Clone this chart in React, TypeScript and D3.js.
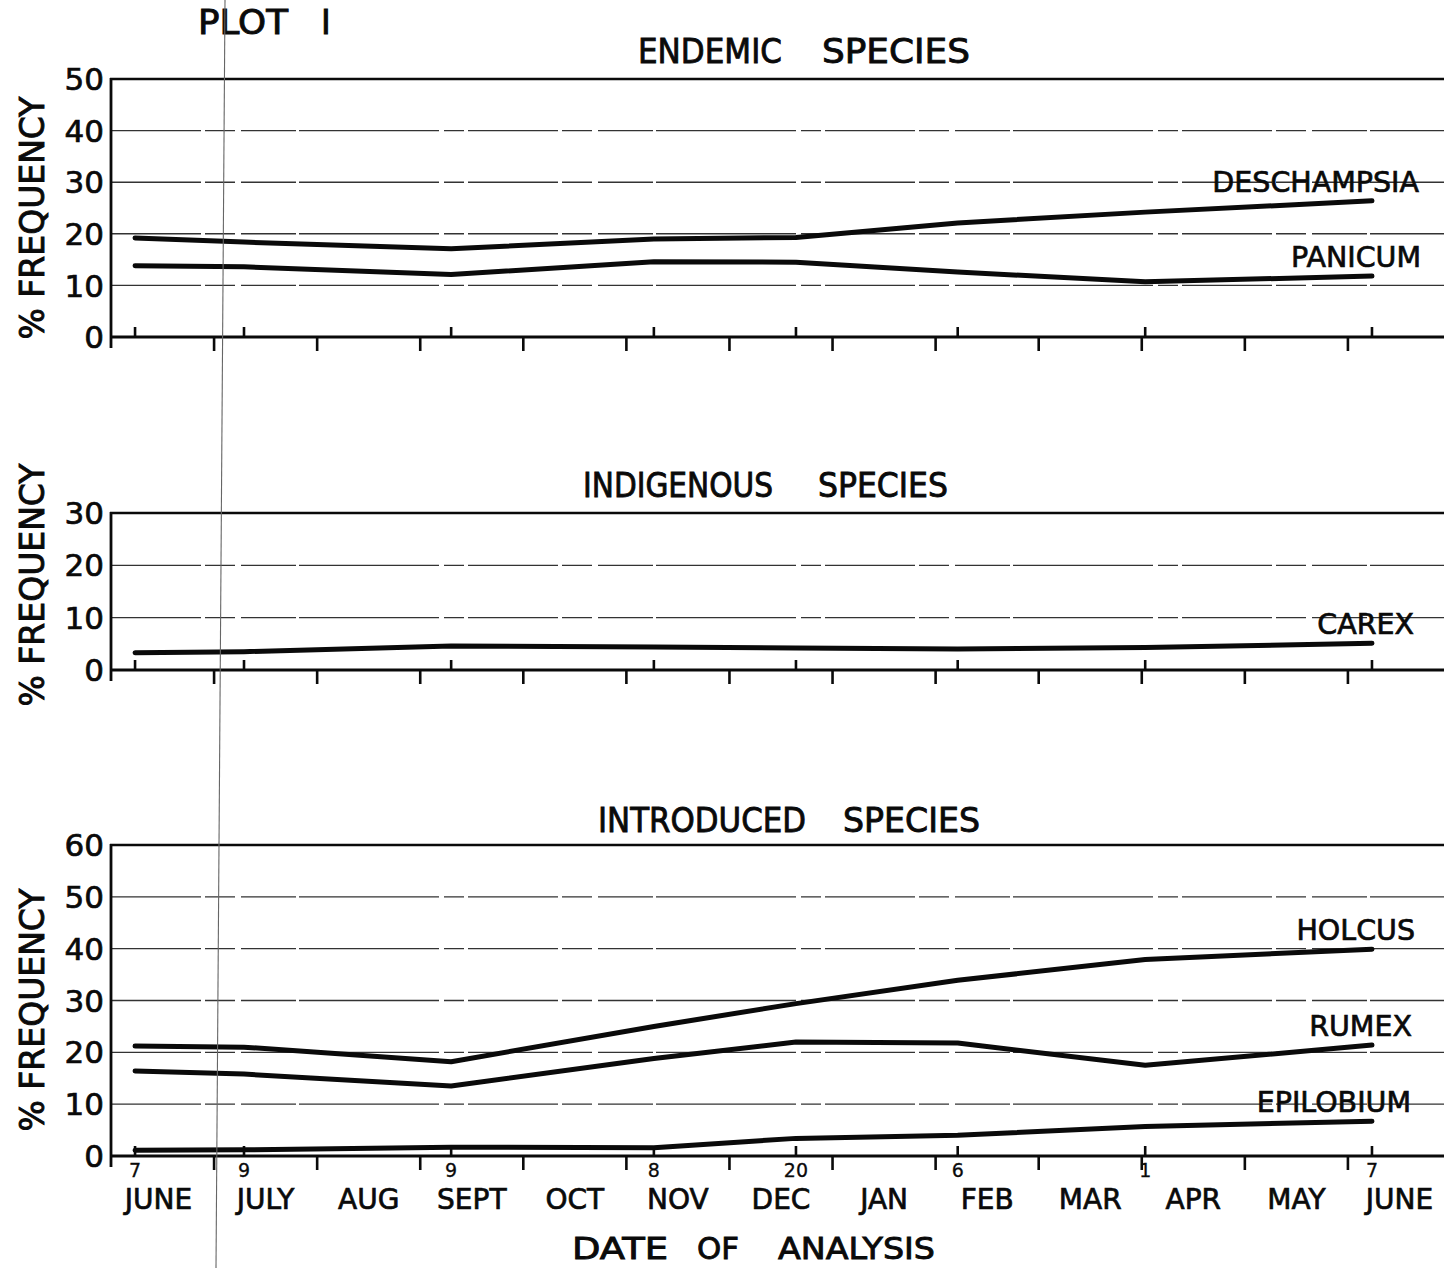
import React from "react";
import * as d3 from "d3";

const W = 1444;
const H = 1268;

// Calendar of the sampling year, June through the following June
const monthLabels = ["JUNE", "JULY", "AUG", "SEPT", "OCT", "NOV", "DEC", "JAN", "FEB", "MAR", "APR", "MAY", "JUNE"];
const monthLengths = [30, 31, 31, 30, 31, 30, 31, 31, 28, 31, 30, 31, 30];

// Dates of analysis (month index into monthLabels, day of month)
const sampleMonth = [0, 1, 3, 5, 6, 8, 10, 12];
const sampleDay = [7, 9, 9, 8, 20, 6, 1, 7];

// % frequency per date of analysis
const deschampsia = [19.2, 18.4, 17.1, 19.0, 19.3, 22.1, 24.2, 26.4];
const panicum = [13.8, 13.6, 12.1, 14.6, 14.5, 12.6, 10.7, 11.8];
const carex = [3.3, 3.5, 4.6, 4.4, 4.2, 4.0, 4.3, 5.1];
const holcus = [21.2, 21.0, 18.2, 25.0, 29.4, 33.9, 37.9, 39.9];
const rumex = [16.4, 15.8, 13.5, 18.8, 22.0, 21.8, 17.5, 21.4];
const epilobium = [1.1, 1.2, 1.7, 1.6, 3.4, 4.0, 5.7, 6.7];

// y-axis tick values of each panel
const endemicTicks = [0, 10, 20, 30, 40, 50];
const indigenousTicks = [0, 10, 20, 30];
const introducedTicks = [0, 10, 20, 30, 40, 50, 60];

const FONT = "'DejaVu Sans', 'Liberation Sans', sans-serif";

const monthPos = (m: number, d: number) => m + d / monthLengths[m];
const x = d3.scaleLinear().domain([0, 13]).range([111, 1451]);
const sampleX = sampleMonth.map((m, i) => x(monthPos(m, sampleDay[i])));

type Series = { name: string; values: number[] };
type Panel = {
  title: [string, string];
  titleX: [number, number, number, number];
  titleY: number;
  ticks: number[];
  yRange: [number, number];
  labelY: number;
  series: Series[];
  showDates: boolean;
};

const panels: Panel[] = [
  {
    title: ["ENDEMIC", "SPECIES"],
    titleX: [638, 144, 822, 148],
    titleY: 63,
    ticks: endemicTicks,
    yRange: [337, 79],
    labelY: 218,
    series: [
      { name: "DESCHAMPSIA", values: deschampsia },
      { name: "PANICUM", values: panicum },
    ],
    showDates: false,
  },
  {
    title: ["INDIGENOUS", "SPECIES"],
    titleX: [583, 190, 818, 130],
    titleY: 497,
    ticks: indigenousTicks,
    yRange: [670, 513],
    labelY: 585,
    series: [{ name: "CAREX", values: carex }],
    showDates: false,
  },
  {
    title: ["INTRODUCED", "SPECIES"],
    titleX: [598, 208, 843, 137],
    titleY: 832,
    ticks: introducedTicks,
    yRange: [1156, 845],
    labelY: 1010,
    series: [
      { name: "HOLCUS", values: holcus },
      { name: "RUMEX", values: rumex },
      { name: "EPILOBIUM", values: epilobium },
    ],
    showDates: true,
  },
];

const labelRight: Record<string, number> = {
  DESCHAMPSIA: 1419,
  PANICUM: 1421,
  CAREX: 1414,
  HOLCUS: 1415,
  RUMEX: 1412,
  EPILOBIUM: 1411,
};

const ink = "#0a0a0a";
const bold = { fill: ink, stroke: ink, strokeWidth: 0.9, fontFamily: FONT } as const;

function PanelView({ p }: { p: Panel }) {
  const max = p.ticks[p.ticks.length - 1];
  const y = d3.scaleLinear().domain([0, max]).range(p.yRange);
  const line = d3
    .line<number>()
    .x((_, i) => sampleX[i])
    .y((v) => y(v))
    .curve(d3.curveLinear);
  const y0 = y(0);
  const yTop = y(max);
  const boundaries = d3.range(1, 13);

  return (
    <g>
      {/* panel title */}
      <text x={p.titleX[0]} y={p.titleY} fontSize={34} textLength={p.titleX[1]} lengthAdjust="spacingAndGlyphs"
        {...bold}>{p.title[0]}</text>
      <text x={p.titleX[2]} y={p.titleY} fontSize={34} textLength={p.titleX[3]} lengthAdjust="spacingAndGlyphs"
        {...bold}>{p.title[1]}</text>

      {/* horizontal grid */}
      {p.ticks.slice(1, -1).map((t) => (
        <line key={t} x1={x(0)} x2={W} y1={y(t)} y2={y(t)} stroke="#333" strokeWidth={1.4}
          strokeDasharray="90 4 30 6 55 3 140 5 20 4" />
      ))}
      {/* top frame line */}
      <line x1={x(0) - 1} x2={W} y1={yTop} y2={yTop} stroke={ink} strokeWidth={2.6} />
      {/* baseline */}
      <line x1={x(0) - 1} x2={W} y1={y0} y2={y0} stroke={ink} strokeWidth={2.8} />
      {/* left axis */}
      <line x1={x(0)} x2={x(0)} y1={yTop - 1} y2={y0 + 11} stroke={ink} strokeWidth={2.8} />

      {/* y tick labels */}
      {p.ticks.map((t) => (
        <text key={t} x={104} y={y(t)} dy="0.36em" textAnchor="end" fontSize={31} {...bold} strokeWidth={0.7}>{t}</text>
      ))}

      {/* y axis title */}
      <text transform={`translate(44,${p.labelY}) rotate(-90)`} textAnchor="middle" fontSize={33} {...bold}
        textLength={243} lengthAdjust="spacingAndGlyphs">% FREQUENCY</text>

      {/* month boundary ticks */}
      {boundaries.map((m) => (
        <line key={m} x1={x(m)} x2={x(m)} y1={y0} y2={y0 + 14} stroke={ink} strokeWidth={2.6} />
      ))}
      {/* analysis date ticks */}
      {sampleX.map((sx, i) => (
        <line key={i} x1={sx} x2={sx} y1={y0 - 10} y2={y0} stroke={ink} strokeWidth={2.6} />
      ))}

      {/* series */}
      {p.series.map((s) => {
        const last = s.values[s.values.length - 1];
        return (
          <g key={s.name}>
            <path d={line(s.values) || ""} fill="none" stroke={ink} strokeWidth={5} strokeLinecap="round"
              strokeLinejoin="round" />
            <text x={labelRight[s.name]} y={y(last) - 9} textAnchor="end" fontSize={28.5} {...bold}
              strokeWidth={0.7}>{s.name}</text>
          </g>
        );
      })}

      {p.showDates && (
        <g>
          {sampleX.map((sx, i) => (
            <text key={i} x={sx} y={y0 + 21} textAnchor="middle" fontSize={19} fill={ink} stroke={ink}
              strokeWidth={0.3} fontFamily={FONT}>
              {sampleDay[i]}
            </text>
          ))}
          {monthLabels.map((m, i) => (
            <text key={i} x={x(i + 0.5) - (i === 0 ? 4 : 0)} y={y0 + 53} textAnchor="middle" fontSize={28}
              {...bold} strokeWidth={0.7}>{m}</text>
          ))}
        </g>
      )}
    </g>
  );
}

export default function App() {
  return (
    <svg width={W} height={H} viewBox={`0 0 ${W} ${H}`}
      style={{ display: "block", position: "absolute", left: 0, top: 0, background: "#fff" }}>
      <rect width={W} height={H} fill="#fff" />
      <text x={198} y={34} fontSize={33} textLength={90} lengthAdjust="spacingAndGlyphs" {...bold}>PLOT</text>
      <text x={321} y={34} fontSize={33} {...bold}>I</text>

      {panels.map((p) => (
        <PanelView key={p.title[0]} p={p} />
      ))}

      <text x={572} y={1259} fontSize={31} textLength={96} lengthAdjust="spacingAndGlyphs" {...bold}>DATE</text>
      <text x={697} y={1259} fontSize={31} textLength={42} lengthAdjust="spacingAndGlyphs" {...bold}>OF</text>
      <text x={778} y={1259} fontSize={31} textLength={157} lengthAdjust="spacingAndGlyphs" {...bold}>ANALYSIS</text>

      {/* faint vertical rule crossing the sheet */}
      <line x1={225} y1={0} x2={216} y2={H} stroke="#666" strokeWidth={1.1} />
    </svg>
  );
}
